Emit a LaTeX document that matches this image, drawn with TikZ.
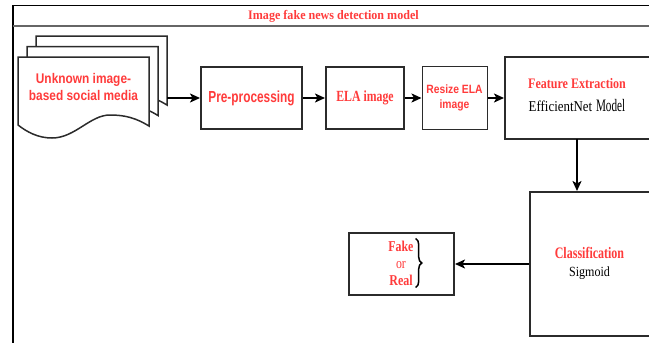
\documentclass[tikz,border=0pt]{standalone}
\usepackage{fontspec}
\setmainfont{Liberation Serif}
\setsansfont{Liberation Sans}
\usetikzlibrary{arrows.meta,decorations.pathreplacing}
\definecolor{txtred}{HTML}{FF3B3B}
\definecolor{edge}{HTML}{2B2B2B}
% horizontally condensed text
\newcommand\cnd[2]{\scalebox{#1}[1]{#2}}
\newcommand\fs[2]{\fontsize{#1}{#2}\selectfont}
% one page of the stacked-document symbol, shifted by (#1,#2)
\newcommand\docpage[2]{%
  \draw[line width=1.5pt, draw=edge, fill=white, shift={(#1,#2)}]
    (18,57) -- (149,57) -- (149,126)
    .. controls (136,118) and (125,115) .. (110,115)
    .. controls (90,115) and (75,138) .. (52,138)
    .. controls (38,138) and (27,132) .. (18,125) -- cycle;}
\begin{document}
\begin{tikzpicture}[x=1pt,y=-1pt,
  stepbox/.style={draw=edge, line width=2pt, fill=white, inner sep=0pt},
  thinbox/.style={draw=edge, line width=1pt, fill=white, inner sep=0pt},
  flow/.style={draw=black, line width=1.6pt, -{Stealth[length=10pt,width=9pt,inset=2.5pt]}},
  redtxt/.style={text=txtred},
  bracket/.style={draw=black, line width=1.5pt, decorate, decoration={brace, amplitude=6pt}}]
\useasboundingbox (0,0) rectangle (649,343);
\clip (0,0) rectangle (649,343);

% outer frame and title bar
\draw[line width=1.2pt, black] (13,360) -- (13,5.5) -- (700,5.5);
\draw[line width=1.8pt, black!60] (13,26) -- (700,26);
\node[redtxt, font=\bfseries\fs{13}{15}] (title) at (333.5,16)
  {\cnd{0.93}{Image fake news detection model}};

% input: stack of documents
\docpage{18}{-21}
\docpage{9}{-10.5}
\docpage{0}{0}
\node[redtxt, font=\sffamily\bfseries\fs{14}{17}, align=center] (src) at (83.5,86.5)
  {\cnd{0.85}{Unknown image-}\\\cnd{0.85}{based social media}};
\coordinate (srcout) at (167,98);

% processing chain
\node[stepbox, minimum width=101, minimum height=62] (pre) at (251.5,98)
  {\sffamily\bfseries\fs{16}{18}\color{txtred}\cnd{0.74}{Pre-processing}};
\node[stepbox, minimum width=78, minimum height=62] (ela) at (365,98)
  {\bfseries\fs{15.5}{17}\color{txtred}\cnd{0.76}{ELA image}};
\node[thinbox, minimum width=65, minimum height=63, align=center,
      font=\sffamily\bfseries\fs{12}{15}, redtxt] (resize) at (454.5,98)
  {\cnd{0.86}{Resize ELA}\\\cnd{0.86}{image}};
\node[stepbox, minimum width=148, minimum height=82, anchor=west] (feat) at (504,98) {};
\node[align=center, font=\fs{15}{23}] (featlbl) at (577,95.5)
  {{\bfseries\fs{14.5}{23}\color{txtred}\cnd{0.83}{Feature Extraction}}\\
   {\fs{15}{23}\cnd{0.86}{EfficientNet}} {\fs{17.5}{23}\cnd{0.64}{Model}}};

% classification and output
\node[stepbox, minimum width=123, minimum height=144, anchor=west] (cls) at (529,264) {};
\node[align=center, font=\fs{15}{18}] (clslbl) at (589.5,263)
  {{\bfseries\fs{16}{18}\color{txtred}\cnd{0.75}{Classification}}\\
   {\fs{14}{18}\cnd{0.86}{Sigmoid}}};
\node[stepbox, minimum width=105, minimum height=62] (out) at (401.5,264) {};
\node[redtxt, align=center, inner sep=1pt, font=\fs{15}{17}] (verdict) at (401,263)
  {{\bfseries\cnd{0.79}{Fake}}\\{\cnd{0.79}{or}}\\{\bfseries\cnd{0.8}{Real}}};
\draw[bracket] ([shift={(1pt,1pt)}]verdict.north east) -- ([shift={(1pt,-1pt)}]verdict.south east);

% connectors
\draw[flow] (srcout) -- (pre.west);
\draw[flow] (pre) -- (ela);
\draw[flow] (ela) -- (resize);
\draw[flow] (resize) -- (feat.west);
\draw[flow] (577,139) coordinate (featout) -- (featout |- cls.north);
\draw[flow] (cls.west) -- (out.east);
\end{tikzpicture}
\end{document}
